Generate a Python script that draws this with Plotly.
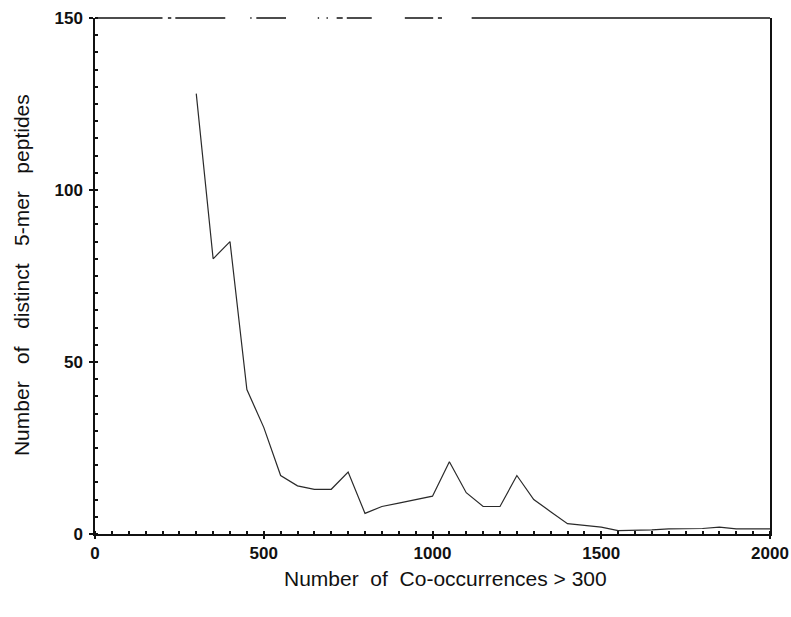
import plotly.graph_objects as go

# Data
co_occurrences = [300, 350, 400, 450, 500, 550, 600, 650, 700, 750, 800, 850, 900, 950,
                  1000, 1050, 1100, 1150, 1200, 1250, 1300, 1350, 1400, 1450, 1500, 1550,
                  1600, 1650, 1700, 1750, 1800, 1850, 1900, 1950, 2000]
distinct_peptides = [128, 80, 85, 42, 31, 17, 14, 13, 13, 18, 6, 8, 9, 10,
                     11, 21, 12, 8, 8, 17, 10, 6.5, 3, 2.5, 2, 1, 1, 1.2,
                     1.5, 1.5, 1.6, 2, 1.5, 1.5, 1.5]

x_ticks = [0, 500, 1000, 1500, 2000]
y_ticks = [0, 50, 100, 150]

x_title = "Number\u00a0 of\u00a0 Co-occurrences > 300"
y_title = "Number\u00a0\u00a0 of\u00a0\u00a0 distinct\u00a0\u00a0 5-mer\u00a0\u00a0 peptides"

FONT = "Liberation Sans, Arial, Helvetica, sans-serif"
INK = "#111111"

fig = go.Figure()
fig.add_trace(go.Scatter(
    x=co_occurrences, y=distinct_peptides, mode="lines",
    line=dict(color="#2a2a2a", width=1.2), showlegend=False,
))

# broken (scanned) top frame line, in plot-area fractions
top_frame_pieces = [(0.0, 0.10), (0.108, 0.113), (0.119, 0.193), (0.230, 0.232),
                    (0.239, 0.283), (0.330, 0.332), (0.343, 0.345), (0.358, 0.367),
                    (0.373, 0.410), (0.459, 0.501), (0.508, 0.514), (0.558, 1.0)]
for a, b in top_frame_pieces:
    fig.add_shape(type="line", xref="paper", yref="paper", x0=a, x1=b, y0=1, y1=1,
                  line=dict(color=INK, width=1.5))

# axis titles
fig.add_annotation(text=x_title, xref="paper", yref="paper", x=0.519, y=-0.087,
                   xanchor="center", yanchor="middle", showarrow=False,
                   font=dict(family=FONT, size=21, color=INK))
fig.add_annotation(text=y_title, xref="paper", yref="paper", x=-0.108, y=0.502,
                   xanchor="center", yanchor="middle", showarrow=False, textangle=-90,
                   font=dict(family=FONT, size=21, color=INK))

fig.update_layout(
    width=791, height=617,
    margin=dict(l=95, r=21, t=18, b=83, autoexpand=False),
    paper_bgcolor="white", plot_bgcolor="white",
    font=dict(family=FONT, color=INK),
)
fig.update_xaxes(
    range=[0, 2000], tickvals=x_ticks, ticktext=[str(v) for v in x_ticks],
    showgrid=False, zeroline=False, automargin=False,
    showline=True, linecolor=INK, linewidth=1.5, mirror=False,
    ticks="outside", ticklen=3, tickwidth=1.5, tickcolor=INK,
    tickfont=dict(family=FONT, size=17, color=INK, weight="bold"),
    minor=dict(dtick=50, ticks="inside", ticklen=3, tickwidth=1.5, tickcolor=INK, showgrid=False),
)
fig.update_yaxes(
    range=[0, 150], tickvals=y_ticks, ticktext=[str(v) for v in y_ticks],
    showgrid=False, zeroline=False, automargin=False,
    showline=True, linecolor=INK, linewidth=1.5, mirror=True,
    ticks="outside", ticklen=4, tickwidth=1.5, tickcolor=INK, ticklabelstandoff=3,
    tickfont=dict(family=FONT, size=17, color=INK, weight="bold"),
    minor=dict(dtick=5, ticks="inside", ticklen=3, tickwidth=1.5, tickcolor=INK, showgrid=False),
)

fig.write_html("out.html")
